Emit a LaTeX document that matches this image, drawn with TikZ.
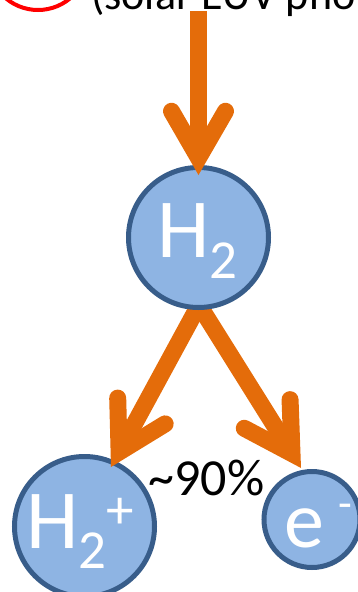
\documentclass[tikz,border=0pt]{standalone}
\usepackage{fontspec}
\setmainfont{Carlito}
\usetikzlibrary{calc}
\pgfdeclarelayer{bg}
\pgfdeclarelayer{fg}
\pgfsetlayers{bg,main,fg}
\definecolor{arrOrange}{HTML}{E46C0A}
\definecolor{ballFill}{HTML}{8EB4E3}
\definecolor{ballEdge}{HTML}{385D8A}
\begin{document}
\begin{tikzpicture}[x=1pt,y=-1pt,
  ball/.style={circle, draw=ballEdge, fill=ballFill, line width=5pt, inner sep=0pt},
  shaft/.style={draw=arrOrange, line width=17pt, line cap=butt},
  headline/.style={draw=arrOrange, line width=17pt, line cap=round, line join=miter},
  lbl/.style={text=white, inner sep=0pt, font=\fontsize{84}{84}\selectfont},
  txt/.style={text=black, inner sep=0pt},
]
\useasboundingbox (0,0) rectangle (358,592);
\clip (0,0) rectangle (358,592);
% top partial elements
\draw[red, line width=4pt] (38,-40) circle[radius=50pt];
\node[txt, anchor=base west, font=\fontsize{44}{44}\selectfont] (euv) at (91,9) {(solar EUV photons)};
\begin{pgfonlayer}{bg}
  \node[ball, minimum size=140pt] (h2p) at (84.5,526.5) {};
  \node[ball, minimum size=96pt] (em) at (312,519.5) {};
\end{pgfonlayer}
\begin{pgfonlayer}{fg}
  \node[ball, minimum size=140pt] (h2) at (198.5,237.5) {};
  \node[lbl, anchor=base] (h2t) at (197.5,257) {H\raisebox{-21pt}{\fontsize{55}{55}\selectfont 2}};
  \node[lbl, anchor=base west] (h2pt) at (26,548) {H\raisebox{-20pt}{\fontsize{55}{55}\selectfont 2}\raisebox{20pt}{\fontsize{55}{55}\selectfont +}};
  \node[lbl, anchor=base west] (emt) at (284,547) {\fontsize{80}{80}\selectfont e\hspace{14pt}\raisebox{29pt}{\fontsize{45}{45}\selectfont -}};
  % top arrow
  \coordinate (src) at (198.5,11);
  \coordinate (tipT) at (198.5,175);
  \coordinate (vT) at ($(tipT)!17pt!(src)$);
  \draw[shaft] (src) -- (vT);
  \draw[headline] ($(vT)!54pt!30:(src)$) -- (vT) -- ($(vT)!54pt!-30:(src)$);
\end{pgfonlayer}
% lower arrows
\coordinate (l0) at ([shift={(7,-17)}]h2.south);
\coordinate (r0) at ([shift={(-7,-17)}]h2.south);
\coordinate (tipL) at (111,467);
\coordinate (tipR) at (301,468);
\coordinate (vL) at ($(tipL)!17pt!(l0)$);
\coordinate (vR) at ($(tipR)!17pt!(r0)$);
\draw[shaft] (l0) -- (vL);
\draw[headline] ($(vL)!54pt!30:(l0)$) -- (vL) -- ($(vL)!54pt!-30:(l0)$);
\draw[shaft] (r0) -- (vR);
\draw[headline] ($(vR)!54pt!30:(r0)$) -- (vR) -- ($(vR)!54pt!-30:(r0)$);
\node[txt, anchor=base, font=\fontsize{52}{52}\selectfont] (pct) at (206.5,495) {\textasciitilde 90\%};
\end{tikzpicture}
\end{document}
